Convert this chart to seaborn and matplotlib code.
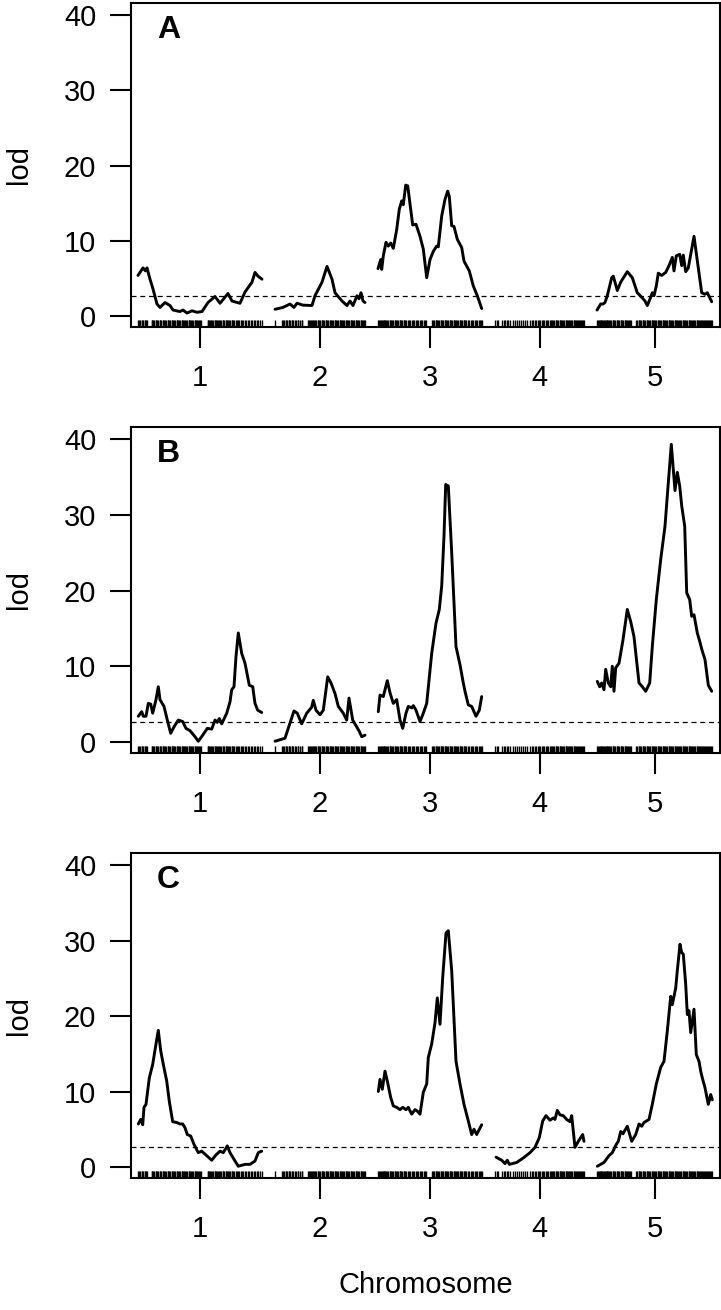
import numpy as np
import pandas as pd
import matplotlib
matplotlib.use("Agg")
import matplotlib.pyplot as plt
import seaborn as sns

# chromosome layout (cM)
chrom_names = ["1", "2", "3", "4", "5"]
chrom_len = [124, 90, 104, 89, 115]
chrom_gap = 13
threshold = 2.65
panel_labels = ["A", "B", "C"]

# ---- panel A ----
a1_pos = [0, 5, 7.5, 9, 12, 15, 19, 22, 27, 32, 35, 42, 45, 49, 54, 59, 64, 70, 77, 82, 90, 94, 102, 107, 114, 117, 120, 124]
a1_lod = [5.4, 6.4, 6.0, 6.4, 4.9, 3.6, 1.6, 1.15, 1.8, 1.4, 0.8, 0.6, 0.8, 0.4, 0.7, 0.5, 0.6, 1.8, 2.6, 1.7, 3.0, 2.0, 1.7, 3.2, 4.5, 5.8, 5.3, 4.9]
a2_pos = [0, 8, 15, 19, 22, 28, 37, 40, 47, 52, 57, 60, 67, 72, 75, 78, 82, 84, 86, 88, 90]
a2_lod = [0.9, 1.15, 1.6, 1.15, 1.7, 1.45, 1.4, 2.7, 4.5, 6.6, 4.9, 3.1, 2.0, 1.4, 2.0, 1.4, 2.7, 2.3, 3.1, 2.0, 1.8]
a3_pos = [0, 2.7, 3.7, 5.3, 8, 10.3, 12.7, 15.3, 18.7, 21.3, 23.7, 25.3, 27.7, 29.7, 34.7, 38, 42, 45.3, 48.7,
          52, 55.3, 58.7, 60.3, 63.7, 67, 69.7, 71.3, 73.7, 76, 79.3, 83.7, 86, 91.3, 95.3, 99.3, 103.7]
a3_lod = [6.3, 7.5, 6.2, 8.0, 9.8, 9.3, 9.7, 9.0, 11.5, 14.2, 15.3, 14.8, 17.4, 17.3, 12.1, 12.2, 10.6, 8.9, 5.1,
          7.5, 8.6, 9.3, 9.2, 13.3, 15.5, 16.6, 15.9, 12.0, 11.9, 10.2, 9.1, 7.3, 6.0, 4.0, 2.7, 1.0]
a5_pos = [0, 3.7, 6, 8, 10.3, 14.7, 16.3, 20.3, 23.7, 30.3, 35.3, 40.3, 44.7, 48, 50.3, 53.7, 55.3, 57, 59.3,
          61.3, 64.7, 68.7, 72, 75.3, 77, 79.3, 82.7, 84.7, 86.3, 88.7, 91.3, 97, 101.3, 104.7, 108, 110.3, 114.7]
a5_lod = [0.8, 1.6, 1.6, 1.8, 2.7, 5.1, 5.3, 3.4, 4.5, 5.9, 5.1, 3.1, 2.5, 2.0, 1.4, 2.5, 3.1, 2.7, 4.0,
          5.7, 5.4, 5.8, 6.7, 7.8, 6.0, 8.0, 8.2, 6.7, 8.1, 5.9, 6.4, 10.6, 6.4, 3.1, 2.9, 3.1, 1.9]

# ---- panel B ----
b1_pos = [0.3, 3.7, 5.3, 8, 10.3, 12.7, 14.7, 18, 20.3, 22, 26, 29.3, 32.7, 36, 40.3, 44.7, 48, 52, 57, 60.3,
          64.7, 69.3, 73.7, 77, 79.3, 81.3, 83.7, 88.7, 92, 93.7, 96, 98, 100.3, 103.7, 107, 111.3, 114.7,
          117, 119.7, 123.7]
b1_lod = [3.4, 4.0, 3.4, 3.4, 5.1, 5.0, 3.8, 5.6, 7.3, 5.6, 4.7, 2.9, 1.15, 2.0, 2.9, 2.7, 1.8, 1.5, 0.7, 0.1,
          0.9, 1.8, 1.7, 2.9, 2.6, 3.1, 2.4, 3.8, 5.3, 6.9, 7.3, 11.3, 14.4, 11.7, 10.4, 7.5, 7.3,
          5.1, 4.2, 3.9]
b2_pos = [0, 10, 15, 19, 22.3, 26.7, 31.7, 36.7, 38.3, 41, 45, 48.3, 52.7, 56, 60, 63.3, 68.3, 71.7, 74, 77.7,
          81.7, 84.3, 86.7, 90]
b2_lod = [0.1, 0.5, 2.5, 4.1, 3.8, 2.4, 3.8, 4.6, 5.5, 4.2, 3.6, 4.2, 8.6, 7.8, 6.4, 4.7, 3.8, 2.9, 5.8, 2.9,
          2.0, 1.4, 0.7, 0.9]
b3_pos = [0.3, 2, 5.3, 9.3, 12, 15.3, 18.7, 22, 24.7, 28, 30.3, 33.7, 35.3, 38, 42, 45.3, 48.7, 53.7, 58,
          61.3, 63.7, 66, 67.7, 70.3, 73.7, 78, 82, 85.3, 87, 90.3, 93.7, 98, 101.3, 103.7]
b3_lod = [4.0, 6.2, 6.0, 8.1, 6.5, 5.1, 5.6, 2.9, 1.8, 3.8, 4.7, 4.5, 4.8, 4.2, 2.7, 3.8, 5.1, 11.7, 15.7,
          17.5, 20.6, 27.2, 34.0, 33.8, 25.0, 12.6, 10.2, 7.8, 6.7, 4.9, 4.7, 3.4, 4.2, 6.0]
b5_pos = [0.3, 2.7, 4.7, 7, 8.7, 11.3, 13.7, 15.3, 17, 18.7, 22, 26, 30.3, 33.7, 37, 42, 45.3, 48.7, 52.7,
          55.3, 59.3, 63.7, 68, 70.3, 74.3, 76, 78, 80.3, 82.7, 84.7, 87.7, 89.7, 92.7, 94.7, 97, 100.3,
          102.7, 105.3, 108, 111.3, 114.7]
b5_lod = [8.0, 7.3, 7.8, 6.9, 9.6, 7.8, 7.3, 10.0, 6.7, 9.8, 10.4, 13.5, 17.5, 15.9, 13.9, 7.8, 7.3, 6.7, 7.8,
          12.6, 18.8, 24.1, 28.5, 32.5, 39.3, 36.5, 33.2, 35.6, 33.8, 31.2, 28.5, 19.7, 18.8, 16.6, 16.8, 14.4,
          13.3, 12.0, 10.9, 7.5, 6.7]

# ---- panel C ----
c1_pos = [0.3, 2.7, 4.7, 6, 8, 11.3, 14.7, 18, 20.3, 22.7, 25.3, 28.7, 31.3, 34.7, 38.7, 42, 44.7, 47, 49.3,
          52.7, 56, 60.3, 63.7, 68.7, 73.7, 78, 82, 85.3, 89.3, 92, 97, 100.3, 107, 112, 117, 120.3, 123.7]
c1_lod = [5.7, 6.3, 5.6, 7.9, 8.3, 11.8, 13.6, 16.3, 18.1, 15.4, 13.6, 11.4, 8.7, 6.0, 5.9, 5.7, 5.7, 5.2, 4.3,
          4.1, 3.0, 1.9, 2.1, 1.5, 0.9, 1.6, 2.1, 1.9, 2.8, 1.9, 0.8, 0.1, 0.35, 0.35, 0.8, 1.9, 2.1]
c3_pos = [0.3, 2, 4.3, 7, 9.3, 12.7, 15.3, 18.7, 22, 24.7, 28, 30.3, 33.7, 37, 39.3, 42, 45.3, 48.7, 50.3,
          53.7, 57, 59.3, 62, 64.7, 68, 70.3, 73.7, 78, 82, 86, 90.3, 93.7, 96, 98.7, 103.7]
c3_lod = [10.0, 11.6, 10.3, 12.7, 11.4, 9.2, 8.1, 7.9, 7.6, 7.9, 7.6, 7.9, 7.0, 7.6, 7.4, 7.0, 9.9, 11.0, 14.5,
          16.3, 19.1, 22.4, 18.9, 25.1, 31.0, 31.3, 26.0, 14.0, 11.0, 8.3, 6.1, 4.3, 5.0, 4.3, 5.6]
c4_pos = [1, 6.7, 10, 12.3, 14.3, 21.7, 28.3, 35, 40, 44.3, 47.7, 51, 55, 58.3, 60, 62.3, 65, 68.3, 71.7, 75,
          76.7, 80, 83.3, 87.7, 89]
c4_lod = [1.3, 0.9, 0.45, 0.9, 0.35, 0.6, 1.2, 1.9, 2.6, 3.9, 6.1, 6.8, 6.2, 6.5, 6.3, 7.5, 6.9, 6.8, 6.3, 6.0,
          6.8, 2.6, 3.4, 4.3, 3.4]
c5_pos = [0.3, 7, 12, 15.3, 19.3, 21.3, 23.7, 26, 30.3, 34.7, 38.7, 42, 44.7, 47, 52, 55.3, 59.3, 63.7, 67,
          70.3, 73.7, 75.3, 78.7, 80.3, 83, 84.7, 86.3, 88.7, 90.3, 92, 93.7, 97, 99.3, 102, 103.7, 105.3, 108,
          111.3, 113.7, 115.3]
c5_lod = [0.1, 0.6, 1.5, 1.9, 3.0, 3.4, 4.7, 4.4, 5.4, 3.4, 4.3, 5.7, 5.4, 5.9, 6.3, 8.3, 11.0, 13.2, 14.0,
          18.0, 22.6, 21.5, 23.7, 26.0, 29.5, 28.4, 28.2, 24.2, 20.2, 20.7, 17.8, 20.9, 14.9, 14.0, 12.7, 11.8,
          10.5, 8.3, 9.6, 8.9]

# ---- genetic markers (rug) ----
m1 = [0, 1, 2, 3.5, 4.2, 5, 6.5, 7.2, 8, 9, 13.5, 14.3, 15, 16, 17.5, 18.2, 19, 20, 21.5, 22.3, 23, 24.5,
      25.2, 26, 27, 28, 29.5, 30.3, 31, 32, 33.5, 34.2, 35, 36, 37, 38.5, 39.3, 40, 41, 42, 43.5, 44.2, 45,
      46, 47, 48, 49, 50.5, 51.3, 52, 53, 54, 55, 56.5, 57.3, 58, 59, 60, 61, 62, 63, 69.5, 70.3, 71, 72,
      73, 74, 75, 76.5, 77.2, 78, 79, 80, 81, 82, 83, 84.5, 85.2, 86, 87.5, 88.3, 89, 90, 91, 92, 93.5,
      94.2, 95, 96, 98, 99, 100, 101, 103, 104, 105, 107, 108, 110, 111, 113, 114, 116, 117, 119, 120,
      122, 124]
m2 = [0, 7, 8.2, 9, 10.5, 11.3, 12, 13.5, 14.2, 15, 16.5, 17.3, 18, 19.5, 21, 22.5, 23.3, 25, 26.5, 27.3,
      33, 34, 35.2, 36, 37, 38.4, 39.2, 40, 41, 42.5, 43.3, 44, 45, 46.5, 47.2, 48, 49, 50.5, 51.3, 52, 53,
      54.5, 55.2, 56, 57, 58, 59.5, 60.3, 61, 62, 63, 64.5, 65.2, 66, 67, 68, 69, 70.5, 71.2, 72, 73, 74,
      75.5, 76.2, 77, 78, 79, 80.5, 81.3, 82, 83, 84, 85.5, 86.2, 87, 88, 89, 90]
m3 = [0, 1, 1.8, 3, 3.7, 4.5, 5.5, 6.2, 7, 8, 9, 10, 11.5, 12.2, 13, 14, 15, 16.5, 17.2, 18, 19, 20, 21.5,
      22.3, 23, 24, 25.5, 26.2, 27, 28, 29.5, 31, 32, 33.5, 35, 36, 37.5, 39, 40, 41.5, 43, 44, 45.5, 47,
      48, 54, 55, 56, 57.5, 58.2, 59, 60, 61, 62.5, 63.2, 64, 65, 66.5, 67.2, 68, 69, 70, 71.5, 72.2, 73,
      74, 75.5, 76.3, 77, 78, 79, 80, 81.5, 82.2, 83, 84, 85.5, 86.2, 87, 88, 90, 91, 92.5, 94, 95, 96.5,
      98, 99, 100.5, 102, 103, 104]
m4 = [0, 1.5, 3, 7, 8.5, 10, 11.5, 13, 14.5, 18, 19.5, 22, 23.5, 26, 27.5, 30, 31.5, 35, 36.5, 38, 39.5, 41,
      42.5, 44, 45, 46.5, 48, 49, 50.5, 52, 53, 54.5, 56, 57, 58.2, 59, 60.5, 61.3, 62, 63, 64.5, 65.2, 66,
      67, 68, 69, 70.5, 71.2, 72, 73, 74, 75, 76, 77, 78.5, 79.2, 80, 81, 82, 83, 84, 85, 86, 87, 88, 89]
m5 = [0, 1, 1.8, 2.5, 3.5, 4.2, 5, 6, 7, 7.8, 8.5, 9.5, 10.2, 11, 12, 13, 14, 15.5, 16.2, 17, 18, 19.5,
      20.2, 21, 22, 23.5, 24.3, 25, 26, 27.5, 28.2, 29, 30, 31, 32, 33, 34, 39, 40, 41.5, 42.2, 43, 44, 45.5,
      46.2, 47, 48, 49.5, 50.3, 51, 52, 53, 54.5, 55.3, 56, 57, 58, 59, 60.5, 61.3, 62, 63, 64, 65.5, 66.2,
      67, 68, 69, 70, 71.5, 72.2, 73, 74, 75, 76, 77.5, 78.2, 79, 80, 81, 82, 83, 84, 85.5, 86.2, 87, 88,
      89, 90, 91.5, 92.2, 93, 94, 95, 96, 97, 98, 99.5, 100.2, 101, 102, 103, 104, 105, 106, 107, 108,
      109, 110, 111, 112, 113, 114, 115]

profiles = {
    "A": {"1": (a1_pos, a1_lod), "2": (a2_pos, a2_lod), "3": (a3_pos, a3_lod), "5": (a5_pos, a5_lod)},
    "B": {"1": (b1_pos, b1_lod), "2": (b2_pos, b2_lod), "3": (b3_pos, b3_lod), "5": (b5_pos, b5_lod)},
    "C": {"1": (c1_pos, c1_lod), "3": (c3_pos, c3_lod), "4": (c4_pos, c4_lod), "5": (c5_pos, c5_lod)},
}
markers = dict(zip(chrom_names, [m1, m2, m3, m4, m5]))

# chromosome offsets on the genome-wide axis
starts = np.concatenate([[0], np.cumsum(np.array(chrom_len) + chrom_gap)[:-1]])
offset = dict(zip(chrom_names, starts))
mids = [offset[c] + L / 2 for c, L in zip(chrom_names, chrom_len)]

rows = []
for p, chroms in profiles.items():
    for c, (pos, lod) in chroms.items():
        for x, y in zip(pos, lod):
            rows.append((p, c, offset[c] + x, y))
df = pd.DataFrame(rows, columns=["panel", "chrom", "gpos", "lod"])
mk = pd.DataFrame([(offset[c] + x) for c in chrom_names for x in markers[c]], columns=["gpos"])

sns.set_style("white")
plt.rcParams["font.family"] = ["Liberation Sans", "DejaVu Sans"]
plt.rcParams["text.color"] = "black"
plt.rcParams["axes.labelcolor"] = "black"
plt.rcParams["xtick.color"] = "black"
plt.rcParams["ytick.color"] = "black"
fs = 21

fig = plt.figure(figsize=(7.21, 13.10), dpi=100)
boxes = [(0.7504, 0.2473), (0.4252, 0.2489), (0.1008, 0.2481)]
left, width = 131 / 721, 589 / 721

for lab, (bot, h) in zip(panel_labels, boxes):
    ax = fig.add_axes([left, bot, width, h])
    sub = df[df["panel"] == lab]
    sns.lineplot(data=sub, x="gpos", y="lod", units="chrom", estimator=None, sort=False,
                 color="black", lw=2.1, legend=False, ax=ax)
    sns.rugplot(data=mk, x="gpos", height=0.021, color="black", lw=0.9, ax=ax)
    ax.axhline(threshold, color="black", lw=0.9, ls=(0, (4, 3)))
    ax.set_xlim(-7, 582)
    ax.set_ylim(-1.45, 41.6)
    ax.set_xticks(mids)
    ax.set_xticklabels(chrom_names)
    ax.set_yticks([0, 10, 20, 30, 40])
    ax.tick_params(axis="both", direction="out", length=15, width=1.5, labelsize=fs,
                   bottom=True, left=True, color="black", labelcolor="black")
    ax.tick_params(axis="x", pad=12)
    ax.tick_params(axis="y", pad=10)
    for s in ax.spines.values():
        s.set_linewidth(1.5)
        s.set_color("black")
    ax.set_xlabel("")
    ax.set_ylabel("lod", fontsize=fs, labelpad=22, color="black")
    ax.text(0.044, 0.962, lab, transform=ax.transAxes, ha="left", va="top",
            fontsize=23, fontweight="bold", color="black")

fig.text(left + width / 2, 1 - 1285 / 1310, "Chromosome", ha="center", va="center",
         fontsize=fs, color="black")
fig.savefig("out.png", dpi=100)
